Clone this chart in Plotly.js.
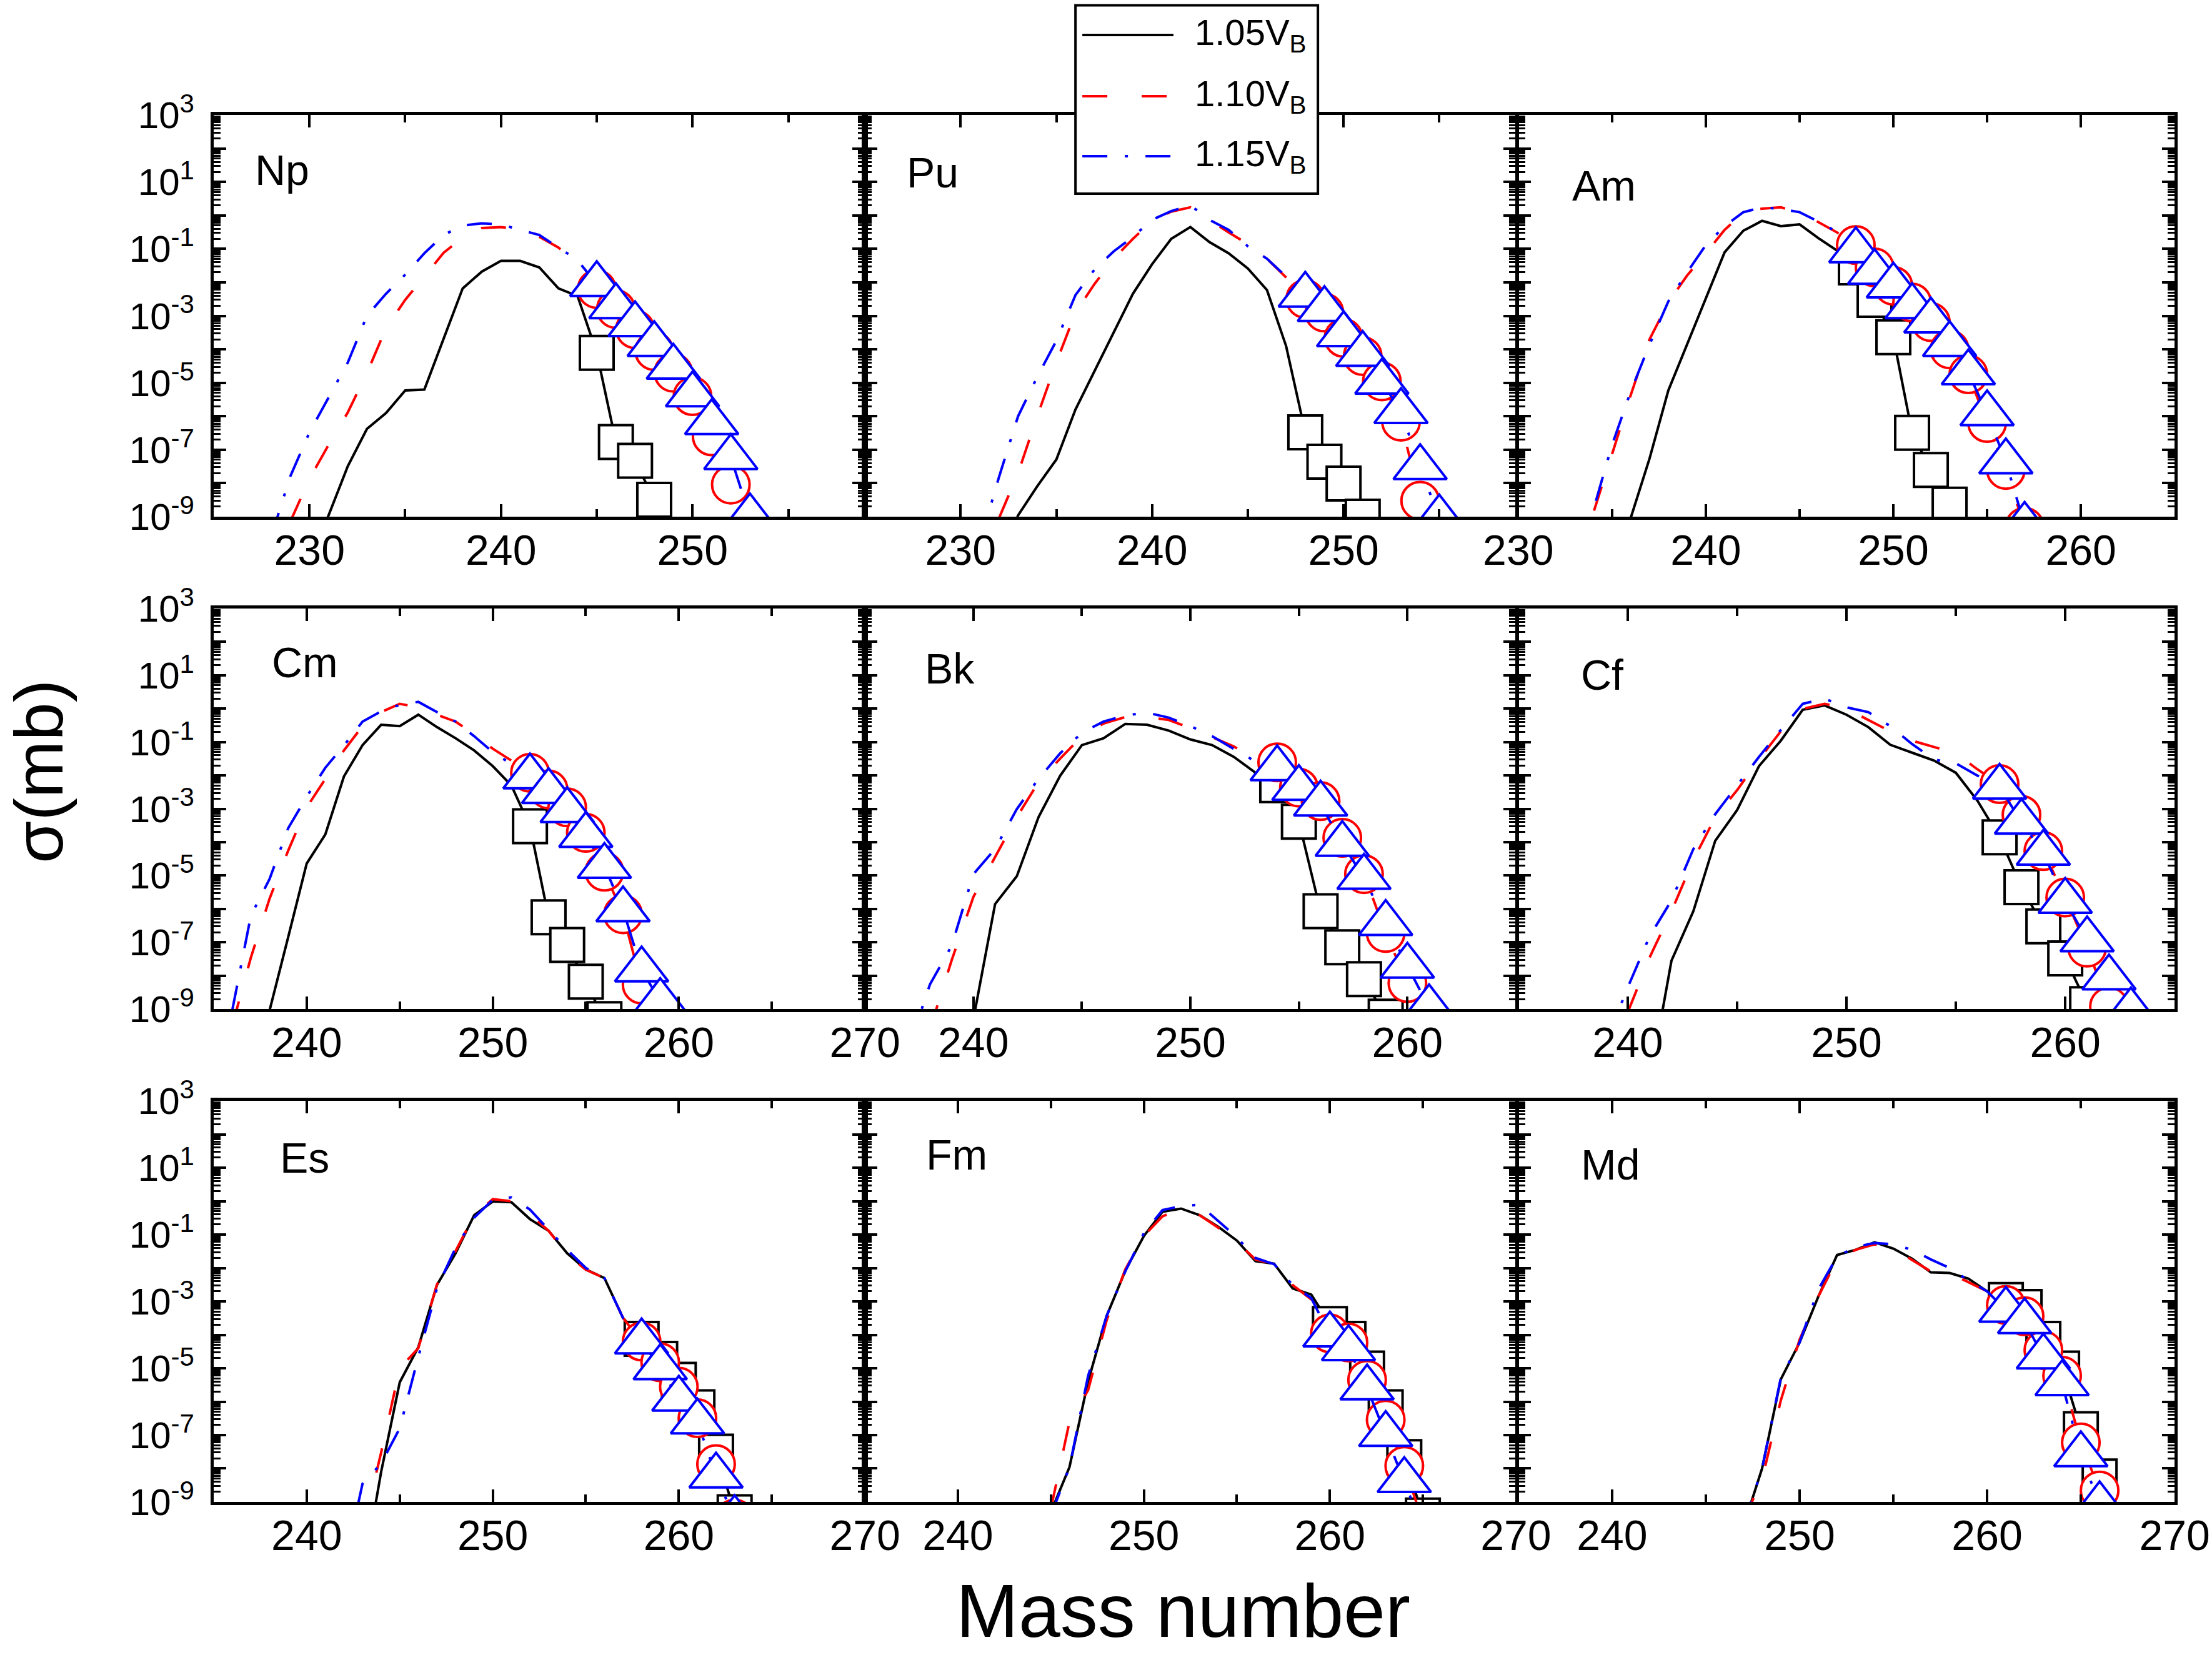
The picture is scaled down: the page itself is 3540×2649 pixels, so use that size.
<!DOCTYPE html>
<html>
<head>
<meta charset="utf-8">
<script src="https://cdn.plot.ly/plotly-3.0.1.min.js"></script>
<style>
  body { margin: 0; background: white; }
  #graf { width: 3540px; height: 2649px; }
</style>
</head>
<body>
<div id="graf"></div>
<script>
// cross sections (mb), per element: mass numbers + 1.05, 1.10, 1.15 V_B
var npA = [228,229,230,231,232,233,234,235,236,237,238,239,240,241,242,243,244,245,246,247,248,249,250,251,252,253,254];
var np105 = [null,null,5.0e-11,1.1e-9,3.2e-8,4.2e-7,1.25e-6,5.9e-6,6.3e-6,2.0e-4,6.6e-3,2.1e-2,4.4e-2,4.4e-2,2.8e-2,6.6e-3,3.9e-3,7.9e-5,1.7e-7,4.7e-8,3.2e-9,1e-10,null,null,null,null,null];
var np110 = [null,7.1e-10,1.35e-8,1.4e-7,1.3e-6,1.95e-5,4.3e-4,3.0e-3,1.5e-2,7.6e-2,0.22,0.42,0.45,0.37,0.23,0.11,3.5e-2,6.3e-3,1.6e-3,4.0e-4,8.9e-5,2.0e-5,4.0e-6,2.5e-7,9.1e-9,1e-10,null];
var np115 = [2.5e-10,1.6e-8,3.3e-7,3.6e-6,4.0e-5,1.0e-3,4.6e-3,1.7e-2,7.4e-2,0.26,0.5,0.58,0.54,0.37,0.26,0.11,4.6e-2,8.7e-3,1.9e-3,5.5e-4,1.4e-4,2.95e-5,4.4e-6,6.5e-7,5.9e-8,1.0e-9,3.2e-11];

var puA = [231,232,233,234,235,236,237,238,239,240,241,242,243,244,245,246,247,248,249,250,251,252,253,254,255,256,257];
var pu105 = [null,3.2e-11,1.1e-9,8.1e-9,5.1e-8,1.6e-6,2.3e-5,3.3e-4,4.6e-3,3.5e-2,0.2,0.45,0.16,7.4e-2,2.6e-2,5.9e-3,1.25e-4,3.3e-7,4.4e-8,9.8e-9,1.0e-9,3.2e-11,null,null,null,null,null];
var pu110 = [null,8.9e-10,2.0e-8,1.0e-6,4.1e-5,1.25e-3,9.1e-3,5.1e-2,0.2,0.69,1.3,1.75,0.74,0.31,0.14,5.1e-2,1.4e-2,3.2e-3,1.25e-3,2.2e-4,6.3e-5,1.1e-5,6.9e-7,3.0e-9,6.3e-11,null,null];
var pu115 = [1.6e-10,1.5e-8,1.0e-6,1.5e-5,1.8e-4,4.2e-3,2.45e-2,8.5e-2,0.23,0.74,1.35,2.0,0.74,0.37,0.12,5.1e-2,1.5e-2,4.2e-3,1.55e-3,2.75e-4,7.1e-5,1.05e-5,1.4e-6,2.95e-8,9.3e-10,3.2e-11,null];

var amA = [233,234,235,236,237,238,239,240,241,242,243,244,245,246,247,248,249,250,251,252,253,254,255,256,257,258];
var am105 = [null,null,1.6e-11,1.0e-9,5.5e-8,5.9e-6,1.4e-4,3.5e-3,7.9e-2,0.35,0.69,0.48,0.54,0.21,8.9e-2,2.8e-2,3.0e-3,2.3e-4,3.2e-7,2.5e-8,2.3e-9,1.0e-10,null,null,null,null];
var am110 = [3.2e-11,1.3e-9,7.4e-8,4.4e-6,2.0e-4,2.5e-3,1.6e-2,7.4e-2,0.37,1.2,1.6,1.75,1.2,0.63,0.31,0.13,2.8e-2,7.9e-3,2.5e-3,6.5e-4,1.0e-4,1.8e-5,6.3e-7,2.5e-8,5.0e-10,3.2e-11];
var am115 = [5.0e-11,1.6e-9,1.4e-7,5.6e-6,1.4e-4,2.7e-3,2.0e-2,0.13,0.48,1.25,1.75,1.55,1.25,0.66,0.32,8.9e-2,2.0e-2,7.9e-3,1.9e-3,7.1e-4,1.4e-4,2.0e-5,1.2e-6,4.4e-8,5.6e-10,3.2e-11];

var cmA = [235,236,237,238,239,240,241,242,243,244,245,246,247,248,249,250,251,252,253,254,255,256,257,258,259,260,261];
var cm105 = [null,null,3.2e-11,8.9e-10,1.4e-7,2.3e-5,1.7e-4,9.3e-3,8.1e-2,0.33,0.3,0.66,0.28,0.13,5.6e-2,1.9e-2,5.0e-3,3.0e-4,5.6e-7,8.3e-8,6.6e-9,5.0e-10,3.2e-11,null,null,null,null];
var cm110 = [null,3.2e-10,3.5e-8,2.0e-6,5.5e-5,1.1e-3,7.9e-3,5.6e-2,0.3,0.79,1.4,1.1,0.66,0.41,0.17,6.3e-2,2.8e-2,1.2e-2,3.8e-3,1.1e-3,1.9e-4,1.3e-5,6.9e-7,5.4e-9,6.3e-11,null,null];
var cm115 = [null,9.3e-10,6.3e-7,7.8e-6,2.6e-4,2.3e-3,1.7e-2,7.9e-2,0.41,0.83,1.3,1.6,0.79,0.41,0.15,5.0e-2,2.2e-2,9.1e-3,3.3e-3,8.9e-4,1.6e-4,1.9e-5,9.5e-7,1.5e-8,1.7e-9,5.0e-11,null];

var bkA = [237,238,239,240,241,242,243,244,245,246,247,248,249,250,251,252,253,254,255,256,257,258,259,260,261,262];
var bk105 = [null,null,null,5.0e-10,1.4e-6,9.5e-6,5.6e-4,9.8e-3,8.1e-2,0.13,0.35,0.33,0.22,0.12,8.1e-2,3.6e-2,1.2e-2,5.1e-3,4.1e-4,8.5e-7,7.1e-8,7.9e-9,5.9e-10,3.2e-11,null,null];
var bk110 = [null,2.5e-10,2.9e-8,2.3e-6,3.5e-5,5.6e-4,6.3e-3,3.2e-2,0.15,0.36,0.56,0.56,0.46,0.26,0.14,7.4e-2,3.0e-2,2.45e-2,4.3e-3,1.7e-3,1.35e-4,1.1e-5,1.9e-7,6.0e-9,1.0e-10,null];
var bk115 = [6.3e-11,5.5e-9,7.9e-8,1.1e-5,6.3e-5,9.8e-4,7.9e-3,4.6e-2,0.19,0.41,0.63,0.76,0.54,0.3,0.15,6.3e-2,2.6e-2,1.6e-2,4.1e-3,1.4e-3,8.7e-5,8.9e-6,3.7e-7,1.95e-8,1.1e-9,5.0e-11];

var cfA = [239,240,241,242,243,244,245,246,247,248,249,250,251,252,253,254,255,256,257,258,259,260,261,262,263,264];
var cf105 = [null,null,6.3e-12,2.8e-8,8.5e-7,1.1e-4,9.1e-4,1.9e-2,0.11,0.93,1.25,0.66,0.28,8.3e-2,4.8e-2,2.8e-2,1.2e-2,1.7e-3,1.4e-4,4.5e-6,3.0e-7,3.3e-8,1.4e-9,5.0e-11,null,null];
var cf110 = [null,7.9e-10,3.5e-8,8.5e-7,2.9e-5,5.6e-4,3.6e-3,3.0e-2,0.21,0.98,1.4,1.0,0.46,0.21,0.11,7.1e-2,4.6e-2,1.5e-2,5.5e-3,6.6e-4,5.4e-5,2.2e-6,6.9e-8,1.2e-9,3.2e-11,null];
var cf115 = [1.0e-10,4.4e-9,1.5e-7,1.8e-6,6.2e-5,6.9e-4,5.0e-3,3.6e-2,0.23,1.4,2.0,1.1,0.79,0.3,8.7e-2,3.0e-2,2.3e-2,9.8e-3,4.5e-3,4.0e-4,4.7e-5,1.7e-6,1.2e-7,8.7e-9,8.9e-10,5.0e-11];

var esA = [242,243,244,245,246,247,248,249,250,251,252,253,254,255,256,257,258,259,260,261,262,263,264];
var es105 = [null,5.0e-12,7.9e-9,3.8e-6,4.3e-5,3.1e-3,2.75e-2,0.38,0.98,0.93,0.29,0.13,2.75e-2,9.1e-3,5.0e-3,3.2e-4,7.6e-5,1.9e-5,4.5e-6,6.8e-7,3.2e-8,4.9e-10,3.2e-11];
var es110 = [null,1.4e-10,3.0e-8,1.0e-5,4.0e-5,3.2e-3,3.2e-2,0.38,1.15,1.0,0.4,0.13,2.5e-2,8.9e-3,5.0e-3,3.2e-4,6.3e-5,1.5e-5,2.8e-6,3.2e-7,1.35e-8,3.2e-10,1.6e-11];
var es115 = [1.0e-11,3.5e-9,1.4e-8,1.6e-7,2.2e-5,2.5e-3,4.0e-2,0.32,1.1,1.3,0.56,0.14,3.5e-2,1.0e-2,5.0e-3,3.2e-4,6.2e-5,1.05e-5,1.2e-6,2.5e-7,6.0e-9,3.2e-10,1.6e-11];

var fmA = [244,245,246,247,248,249,250,251,252,253,254,255,256,257,258,259,260,261,262,263,264,265,266];
var fm105 = [null,5.0e-10,1.1e-8,4.0e-6,3.7e-4,8.3e-3,9.1e-2,0.48,0.6,0.38,0.17,6.6e-2,1.6e-2,1.35e-2,2.45e-3,1.6e-3,2.1e-4,7.6e-5,9.8e-6,6.8e-7,2.2e-8,3.9e-10,3.2e-11];
var fm110 = [null,6.3e-10,2.5e-7,2.2e-6,2.75e-4,9.1e-3,9.1e-2,0.35,0.6,0.38,0.16,6.0e-2,1.8e-2,1.3e-2,3.1e-3,1.15e-3,1.1e-4,5.9e-5,4.5e-6,2.9e-7,1.2e-8,2.5e-10,1.6e-11];
var fm115 = [null,4.0e-10,1.1e-8,5.9e-6,3.7e-4,7.9e-3,0.11,0.54,0.71,0.78,0.25,8.3e-2,2.0e-2,1.3e-2,3.1e-3,1.25e-3,1.0e-4,3.9e-5,2.6e-6,1.05e-7,4.4e-9,1.6e-10,1.0e-11];

var mdA = [246,247,248,249,250,251,252,253,254,255,256,257,258,259,260,261,262,263,264,265,266,267,268];
var md105 = [null,1.8e-10,1.0e-8,4.7e-6,5.9e-5,1.4e-3,2.45e-2,3.5e-2,5.9e-2,3.8e-2,1.9e-2,7.4e-3,7.1e-3,4.8e-3,2.0e-3,1.1e-3,6.8e-4,7.6e-5,9.8e-6,1.5e-7,5.8e-9,2.5e-10,1.0e-11];
var md110 = [null,2.7e-10,4.7e-9,1.1e-6,7.2e-5,1.4e-3,1.8e-2,3.5e-2,5.1e-2,3.8e-2,1.7e-2,7.9e-3,7.1e-3,3.8e-3,2.0e-3,7.8e-4,3.6e-4,3.5e-5,6.0e-6,6.0e-8,2.2e-9,3.2e-11,null];
var md115 = [null,2.0e-10,1.0e-8,5.2e-6,5.9e-5,2.3e-3,2.2e-2,4.3e-2,5.6e-2,5.1e-2,3.5e-2,1.8e-2,1.0e-2,4.3e-3,2.0e-3,5.5e-4,2.5e-4,2.2e-5,3.5e-6,2.6e-8,8.3e-10,1.6e-11,null];

var prvky = ['Np', 'Pu', 'Am', 'Cm', 'Bk', 'Cf', 'Es', 'Fm', 'Md'];
// first mass number drawn with symbols in each panel
var oznacenieOd = [245, 248, 248, 252, 254, 257, 258, 260, 261];
var napatia = ['1.05V<sub>B</sub>', '1.10V<sub>B</sub>', '1.15V<sub>B</sub>'];

// labelled decades and the unlabelled ones in between
var yTicks = [1e-9, 1e-7, 1e-5, 1e-3, 1e-1, 1e1, 1e3];
var yTickText = ['10<sup>-9</sup>', '10<sup>-7</sup>', '10<sup>-5</sup>', '10<sup>-3</sup>',
                 '10<sup>-1</sup>', '10<sup>1</sup>', '10<sup>3</sup>'];
var yTicksBez = [1e-8, 1e-6, 1e-4, 1e-2, 1, 1e2];

var panely = [
    {A: npA, s: [np105, np110, np115]},
    {A: puA, s: [pu105, pu110, pu115]},
    {A: amA, s: [am105, am110, am115]},
    {A: cmA, s: [cm105, cm110, cm115]},
    {A: bkA, s: [bk105, bk110, bk115]},
    {A: cfA, s: [cf105, cf110, cf115]},
    {A: esA, s: [es105, es110, es115]},
    {A: fmA, s: [fm105, fm110, fm115]},
    {A: mdA, s: [md105, md110, md115]}
];

// styles
var farby = ['#000000', '#ff0000', '#0000ff'];
var ciary = ['solid', '40px,55px', '40px,28px,5px,28px'];
var symboly = ['square', 'circle', 'triangle-up'];
var velkosti = [54, 60, 74];

// layout of the 3x3 grid (paper fractions)
var stlpce = [[0.0966, 0.3910], [0.3910, 0.6853], [0.6864, 0.9831]];
var riadky = [[0.6878, 0.9305], [0.3903, 0.6323], [0.0925, 0.3348]];
var rozsahX = [[225, 259], [225, 259], [230, 265], [235, 270], [235, 265], [235, 265], [235, 270], [235, 270], [235, 270]];
var polohaZnacky = [[0.061, 0.863], [0.062, 0.857], [0.08, 0.824], [0.087, 0.866], [0.09, 0.85], [0.093, 0.835],
                    [0.10, 0.858], [0.092, 0.866], [0.093, 0.841]];

var pismo = 'Liberation Sans, Arial, Helvetica, sans-serif';

function vedlajsieTicky() {
    var t = [];
    for (var e = -9; e < 3; e++) {
        for (var k = 2; k < 10; k++) {
            t.push(k * Math.pow(10, e));
        }
    }
    return t;
}

function pripravStopy() {
    var data = [];
    for (var i = 0; i < panely.length; i++) {
        var p = panely[i];
        var os = i === 0 ? '' : String(i + 1);
        for (var s = 0; s < 3; s++) {
            data.push({
                x: p.A, y: p.s[s], xaxis: 'x' + os, yaxis: 'y' + os,
                type: 'scatter', mode: 'lines',
                line: {color: farby[s], width: 4, dash: ciary[s]},
                hoverinfo: 'skip', showlegend: false
            });
            var mx = [], my = [];
            for (var k = 0; k < p.A.length; k++) {
                if (p.A[k] >= oznacenieOd[i] && p.s[s][k] !== null) {
                    mx.push(p.A[k]);
                    my.push(p.s[s][k]);
                }
            }
            data.push({
                x: mx, y: my, xaxis: 'x' + os, yaxis: 'y' + os,
                type: 'scatter', mode: 'markers',
                marker: {symbol: symboly[s], size: velkosti[s], color: 'white',
                         line: {color: farby[s], width: 4}},
                hoverinfo: 'skip', showlegend: false
            });
        }
        // empty trace so the overlay axis with the unlabelled decade ticks gets drawn
        data.push({x: [], y: [], xaxis: 'x' + os, yaxis: 'y' + (10 + i),
                   type: 'scatter', mode: 'lines', hoverinfo: 'skip', showlegend: false});
    }
    return data;
}

function pripravLayout() {
    var layout = {
        width: 3540, height: 2649,
        margin: {l: 0, r: 0, t: 0, b: 0},
        paper_bgcolor: 'white', plot_bgcolor: 'white',
        font: {family: pismo, color: 'black'},
        showlegend: false,
        annotations: [],
        shapes: []
    };
    var minor = vedlajsieTicky();

    for (var i = 0; i < 9; i++) {
        var os = i === 0 ? '' : String(i + 1);
        var stlpec = i % 3;
        var riadok = Math.floor(i / 3);

        layout['xaxis' + os] = {
            type: 'linear', range: rozsahX[i], domain: stlpce[stlpec], anchor: 'y' + os,
            showline: true, linewidth: 5, linecolor: 'black', mirror: 'ticks',
            ticks: 'inside', ticklen: 20, tickwidth: 4, tickcolor: 'black',
            tickmode: 'linear', tick0: 0, dtick: 10,
            minor: {dtick: 5, tick0: 0, ticks: 'inside', ticklen: 12, tickwidth: 4, tickcolor: 'black'},
            showgrid: false, zeroline: false,
            tickfont: {size: 68, family: pismo, color: 'black'},
            ticklabelstandoff: -10, fixedrange: true
        };
        layout['yaxis' + os] = {
            type: 'log', range: [-9, 3], domain: riadky[riadok], anchor: 'x' + os,
            showline: true, linewidth: 5, linecolor: 'black', mirror: 'ticks',
            ticks: 'inside', ticklen: 20, tickwidth: 4, tickcolor: 'black',
            tickmode: 'array', tickvals: yTicks, ticktext: yTickText,
            showticklabels: stlpec === 0,
            minor: {tickmode: 'array', tickvals: minor, ticks: 'inside', ticklen: 11, tickwidth: 3, tickcolor: 'black'},
            showgrid: false, zeroline: false,
            tickfont: {size: 60, family: pismo, color: 'black'},
            ticklabelstandoff: 14, fixedrange: true
        };
        layout['yaxis' + (10 + i)] = {
            type: 'log', range: [-9, 3], domain: riadky[riadok], anchor: 'x' + os,
            overlaying: 'y' + os, side: 'left',
            showline: false, mirror: 'ticks',
            ticks: 'inside', ticklen: 20, tickwidth: 4, tickcolor: 'black',
            tickmode: 'array', tickvals: yTicksBez, showticklabels: false,
            showgrid: false, zeroline: false, fixedrange: true
        };

        layout.annotations.push({
            text: prvky[i], showarrow: false,
            xref: 'x' + os + ' domain', yref: 'y' + os + ' domain',
            x: polohaZnacky[i][0], y: polohaZnacky[i][1],
            xanchor: 'left', yanchor: 'middle',
            font: {size: 68, family: pismo, color: 'black'}
        });
    }

    // axis titles
    layout.annotations.push({
        text: '\u03c3(mb)', showarrow: false, xref: 'paper', yref: 'paper',
        x: 0.0173, y: 0.534, xanchor: 'center', yanchor: 'middle', textangle: -90,
        font: {size: 110, family: pismo, color: 'black'}
    });
    layout.annotations.push({
        text: 'Mass number', showarrow: false, xref: 'paper', yref: 'paper',
        x: 0.535, y: 0, xanchor: 'center', yanchor: 'bottom', yshift: 2,
        font: {size: 120, family: pismo, color: 'black'}
    });

    // legend box drawn on top of the Pu panel
    layout.shapes.push({
        type: 'rect', xref: 'paper', yref: 'paper', layer: 'above',
        x0: 0.4862, x1: 0.5958, y0: 0.883, y1: 0.9968,
        fillcolor: 'white', line: {color: 'black', width: 4}
    });
    var riadkyLegendy = [0.9789, 0.9419, 0.9056];
    for (var s = 0; s < 3; s++) {
        layout.shapes.push({
            type: 'line', xref: 'paper', yref: 'paper', layer: 'above',
            x0: 0.4893, x1: 0.5305, y0: riadkyLegendy[s], y1: riadkyLegendy[s],
            line: {color: farby[s], width: 4, dash: ciary[s]}
        });
        layout.annotations.push({
            text: napatia[s], showarrow: false, xref: 'paper', yref: 'paper',
            x: 0.5395, y: riadkyLegendy[s], xanchor: 'left', yanchor: 'middle',
            font: {size: 58, family: pismo, color: 'black'}
        });
    }
    return layout;
}

Plotly.newPlot('graf', pripravStopy(), pripravLayout(), {displayModeBar: false, staticPlot: true});
</script>
</body>
</html>
